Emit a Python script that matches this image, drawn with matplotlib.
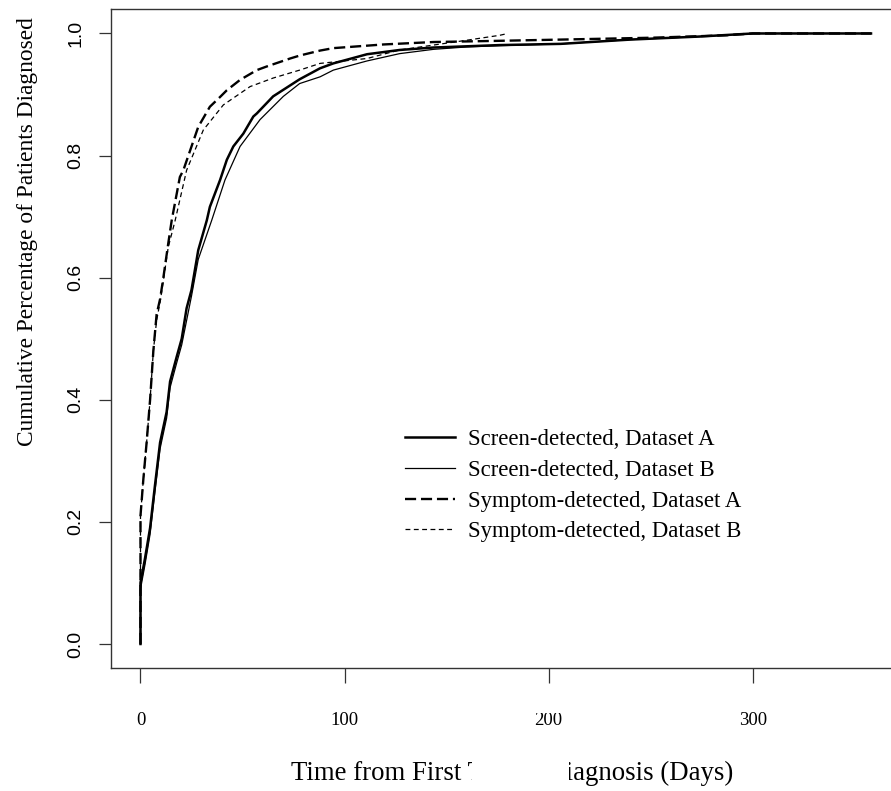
import matplotlib
matplotlib.use("Agg")
import matplotlib.pyplot as plt
from matplotlib.patches import Rectangle

plt.rcParams['lines.scale_dashes'] = False

# ---- data (days, cumulative fraction) ----
screen_a_days = [0, 0, 2.2, 4.7, 7.1, 9.6, 12.8, 14.5, 17.7, 20.2, 22.6, 25, 28.3, 32.5, 34, 39,
                 42.3, 45.5, 50.4, 55.3, 57, 65, 78, 88, 94.5, 111, 127, 143.5, 176, 206, 240,
                 274, 300, 358]
screen_a_vals = [0, 0.10, 0.14, 0.19, 0.26, 0.33, 0.38, 0.43, 0.47, 0.50, 0.55, 0.58, 0.645, 0.694,
                 0.716, 0.76, 0.793, 0.815, 0.836, 0.864, 0.869, 0.897, 0.925, 0.943, 0.951, 0.966,
                 0.973, 0.977, 0.981, 0.983, 0.99, 0.995, 1.0, 1.0]

screen_b_days = [0, 0, 2.2, 4.7, 7.1, 9.6, 12.8, 14.5, 17.7, 20.2, 22.6, 25, 28.3, 34.9, 41.4,
                 48.8, 58.6, 70, 78, 88, 94.5, 111, 127, 143.5, 160, 176, 206, 240, 274, 300, 358]
screen_b_vals = [0, 0.09, 0.13, 0.18, 0.25, 0.32, 0.37, 0.42, 0.46, 0.49, 0.53, 0.57, 0.63, 0.694,
                 0.76, 0.815, 0.859, 0.897, 0.918, 0.929, 0.94, 0.955, 0.967, 0.974, 0.978, 0.98,
                 0.983, 0.99, 0.995, 1.0, 1.0]

symptom_a_days = [0, 0, 1.4, 3, 4.7, 6.3, 7.9, 9.6, 11.2, 13.6, 15.3, 19.3, 21, 28.3, 34, 39, 42.3,
                  48.8, 57, 61.9, 73.3, 78.2, 88, 94.5, 119, 143.5, 176, 206, 250, 287, 300, 358]
symptom_a_vals = [0, 0.21, 0.27, 0.33, 0.40, 0.48, 0.54, 0.565, 0.60, 0.656, 0.694, 0.765, 0.776,
                  0.847, 0.88, 0.896, 0.907, 0.924, 0.94, 0.946, 0.959, 0.964, 0.972, 0.976, 0.982,
                  0.986, 0.988, 0.99, 0.993, 0.997, 1.0, 1.0]

symptom_b_days = [0, 0, 1.4, 3, 4.7, 6.3, 7.9, 9.6, 11.2, 13.6, 17, 22.6, 30.8, 40.6, 53.7, 65, 78,
                  88, 111, 127, 143.5, 160, 176, 180]
symptom_b_vals = [0, 0.21, 0.27, 0.33, 0.40, 0.48, 0.53, 0.56, 0.595, 0.65, 0.694, 0.776, 0.842,
                  0.883, 0.913, 0.927, 0.94, 0.951, 0.959, 0.973, 0.981, 0.989, 0.997, 1.0]

labels = ["Screen-detected, Dataset A", "Screen-detected, Dataset B",
          "Symptom-detected, Dataset A", "Symptom-detected, Dataset B"]
x_ticks = [0, 100, 200, 300]
y_ticks = [0.0, 0.2, 0.4, 0.6, 0.8, 1.0]

SERIF = ['Liberation Serif', 'DejaVu Serif']
SANS = ['Liberation Sans', 'DejaVu Sans']

W, H = 891, 791
fig = plt.figure(figsize=(W / 100, H / 100), dpi=100)
ax = fig.add_axes([110.7 / W, (H - 668) / H, (900 - 110.7) / W, (668 - 9) / H])

ax.plot(screen_a_days, screen_a_vals, color='black', lw=1.8, label=labels[0])
ax.plot(screen_b_days, screen_b_vals, color='black', lw=0.9, label=labels[1])
la, = ax.plot(symptom_a_days, symptom_a_vals, color='black', lw=1.7, label=labels[2])
la.set_dashes((8, 3.5))
lb, = ax.plot(symptom_b_days, symptom_b_vals, color='black', lw=0.9, label=labels[3])
lb.set_dashes((3.5, 2.5))

ax.set_xlim(-14.6, 372.2)
ax.set_ylim(-0.0393, 1.0401)

for s in ['top', 'bottom', 'left', 'right']:
    ax.spines[s].set_linewidth(1.0)
    ax.spines[s].set_color('#333333')

ax.tick_params(axis='x', length=10.8, width=0.9, color='#333333', pad=21)
ax.tick_params(axis='y', length=9, width=0.9, color='#333333', pad=10)
ax.set_xticks(x_ticks)
ax.set_xticklabels([str(t) for t in x_ticks], fontfamily=SERIF, fontsize=13.5)
ax.set_yticks(y_ticks)
ax.set_yticklabels([f"{t:.1f}" for t in y_ticks], fontfamily=SANS, fontsize=14,
                   rotation=90, va='center')

fig.text(28 / W, 1 - 232 / H, "Cumulative Percentage of Patients Diagnosed",
         rotation=90, ha='center', va='center', fontfamily=SERIF, fontsize=16.8)
fig.text(512 / W, 1 - 773 / H, "Time from First Test to Diagnosis (Days)",
         ha='center', va='center', fontfamily=SERIF, fontsize=19.3)

leg = ax.legend(loc='upper left', bbox_to_anchor=(405 / W, 1 - 429 / H),
                bbox_transform=fig.transFigure, frameon=False, borderpad=0,
                borderaxespad=0, handlelength=2.2, handletextpad=0.55,
                labelspacing=0.43, prop={'family': SERIF, 'size': 16.4})

# white occlusions present in the reference image
fig.patches.append(Rectangle((472 / W, 0), (569 - 472) / W, (791 - 745) / H,
                             transform=fig.transFigure, facecolor='white',
                             edgecolor='none', zorder=10))
fig.patches.append(Rectangle((526 / W, 1 - 713 / H), (572 - 526) / W, 15 / H,
                             transform=fig.transFigure, facecolor='white',
                             edgecolor='none', zorder=10))

fig.savefig("out.png", dpi=100)
